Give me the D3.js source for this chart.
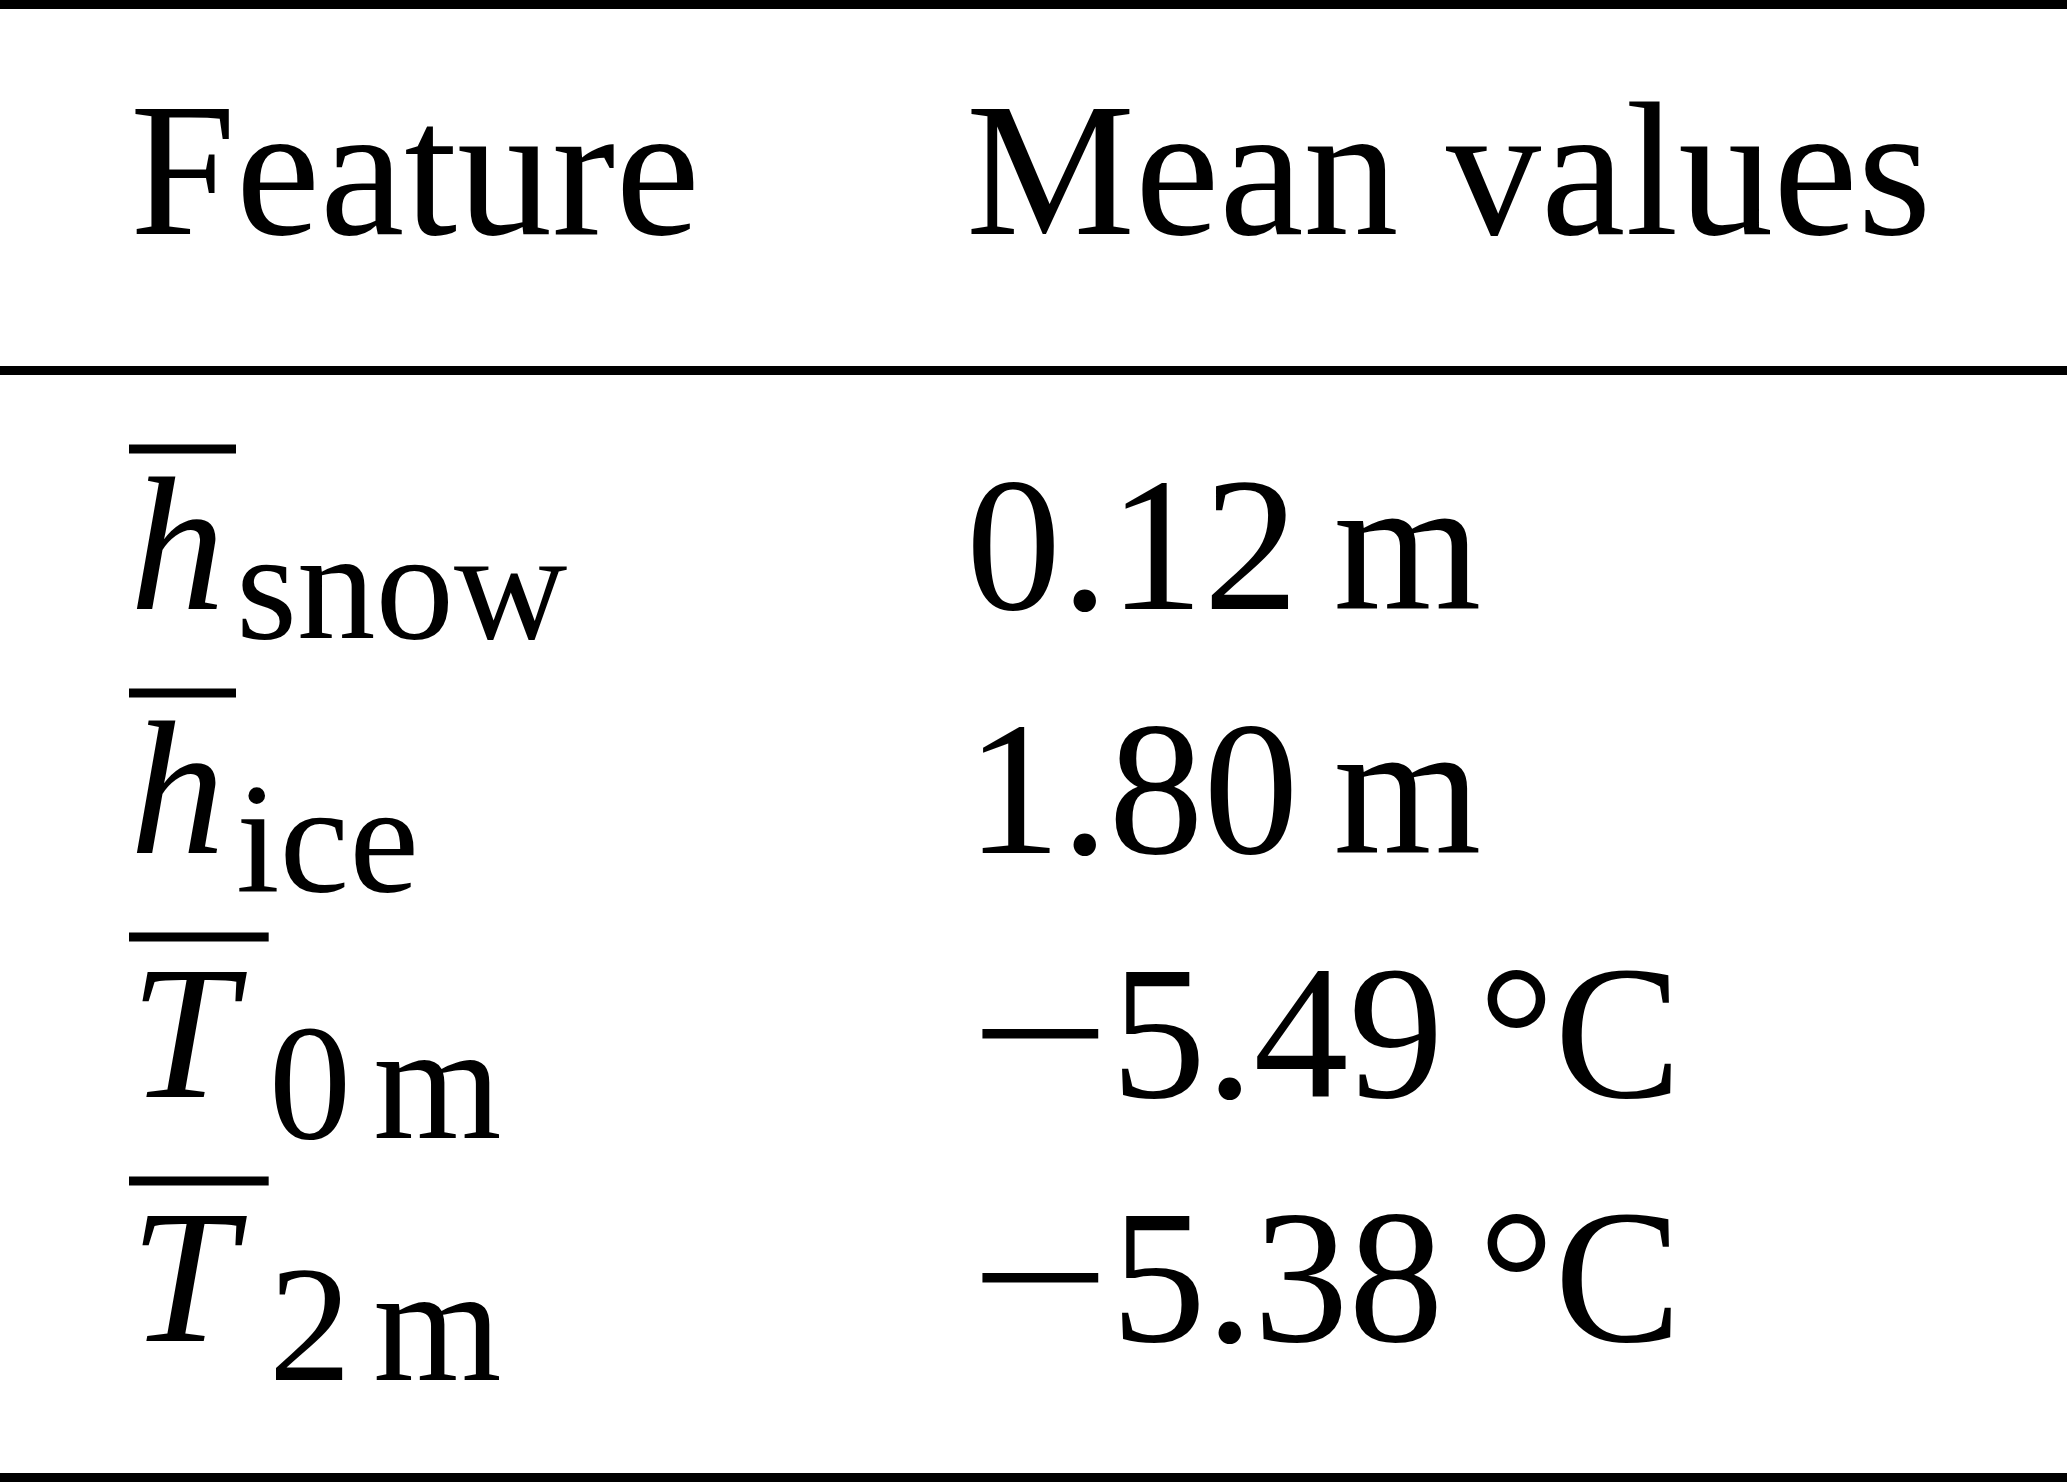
<!DOCTYPE html>
<html>
<head>
<meta charset="utf-8">
<script src="https://cdn.jsdelivr.net/npm/d3@7"></script>
<style>
  html, body { margin: 0; padding: 0; background: #fff; }
  svg { display: block; }
  text { font-family: "Liberation Serif", "Times New Roman", serif; fill: #000; }
</style>
</head>
<body>
<div id="table"></div>
<script>
// Table content
const columns = ["Feature", "Mean values"];
const features = ["hsnow", "hice", "T0m", "T2m"];
const symbols = ["h", "h", "T", "T"];
const subscripts = ["snow", "ice", "0 m", "2 m"];
const values = [0.12, 1.80, -5.49, -5.38];
const units = ["m", "m", "°C", "°C"];

// Layout
const width = 2067, height = 1482;
const fontSize = 190;
const rule = 9;
const subSize = {h: 157, T: 165};
const subDx = {h: 11, T: 33};          // gap after symbol (also overline overhang)
const subShift = [29, 38, 41, 39];     // subscript baseline drop per row
const overlineRise = 160;
const minusStretch = 1.31;             // math minus is wider than the text one

const svg = d3.select("#table").append("svg")
    .attr("width", width)
    .attr("height", height);

const x = d3.scaleOrdinal().domain(columns).range([130, 966]);
const y = d3.scalePoint().domain(features).range([609, 1341]);
const headerY = 234;

// Horizontal rules (booktabs style)
const rules = [rule / 2, 370.5, height - rule / 2];
svg.append("g").selectAll("line")
    .data(rules)
    .join("line")
    .attr("x1", 0)
    .attr("x2", width)
    .attr("y1", d => d)
    .attr("y2", d => d)
    .attr("stroke", "#000")
    .attr("stroke-width", rule);

// Header
svg.append("g").selectAll("text")
    .data(columns)
    .join("text")
    .attr("x", d => x(d))
    .attr("y", headerY)
    .attr("font-size", fontSize)
    .text(d => d);

// Feature column: overlined italic symbol + roman subscript
const rows = features.map((f, i) => ({
    key: f, sym: symbols[i], sub: subscripts[i], value: values[i], unit: units[i], i
}));

const feat = svg.append("g").selectAll("g")
    .data(rows)
    .join("g");

feat.each(function(d) {
    const g = d3.select(this);
    const by = y(d.key);
    const x0 = x(columns[0]);
    const sym = g.append("text")
        .attr("x", x0)
        .attr("y", by)
        .attr("font-size", fontSize)
        .attr("font-style", "italic")
        .text(d.sym);
    const len = sym.node().getComputedTextLength();
    const sx = x0 + len + subDx[d.sym];

    g.append("rect")
        .attr("x", x0 - 1)
        .attr("y", by - overlineRise - rule / 2)
        .attr("width", sx - x0 + 1)
        .attr("height", rule)
        .attr("fill", "#000");

    const parts = d.sub.split(" ");
    const st = g.append("text")
        .attr("x", sx)
        .attr("y", by + subShift[d.i])
        .attr("font-size", subSize[d.sym]);
    parts.forEach((p, k) => {
        st.append("tspan")
            .attr("dx", k === 0 ? 0 : 22)
            .text(p);
    });
});

// Value column: sign (stretched), number, thin space, unit
const fmt = d3.format(".2f");
const vx = x(columns[1]);
const vg = svg.append("g");

vg.selectAll("text.sign")
    .data(rows.filter(d => d.value < 0))
    .join("text")
    .attr("class", "sign")
    .attr("font-size", fontSize)
    .attr("transform", d => `translate(${vx + 4},${y(d.key)}) scale(${minusStretch},1)`)
    .text("\u2212");

const vt = vg.selectAll("text.val")
    .data(rows)
    .join("text")
    .attr("class", "val")
    .attr("x", vx)
    .attr("y", d => y(d.key))
    .attr("font-size", fontSize);
vt.append("tspan")
    .attr("dx", d => d.value < 0 ? 145 : 0)
    .text(d => fmt(Math.abs(d.value)));
vt.append("tspan").attr("dx", 35).text(d => d.unit);
</script>
</body>
</html>
